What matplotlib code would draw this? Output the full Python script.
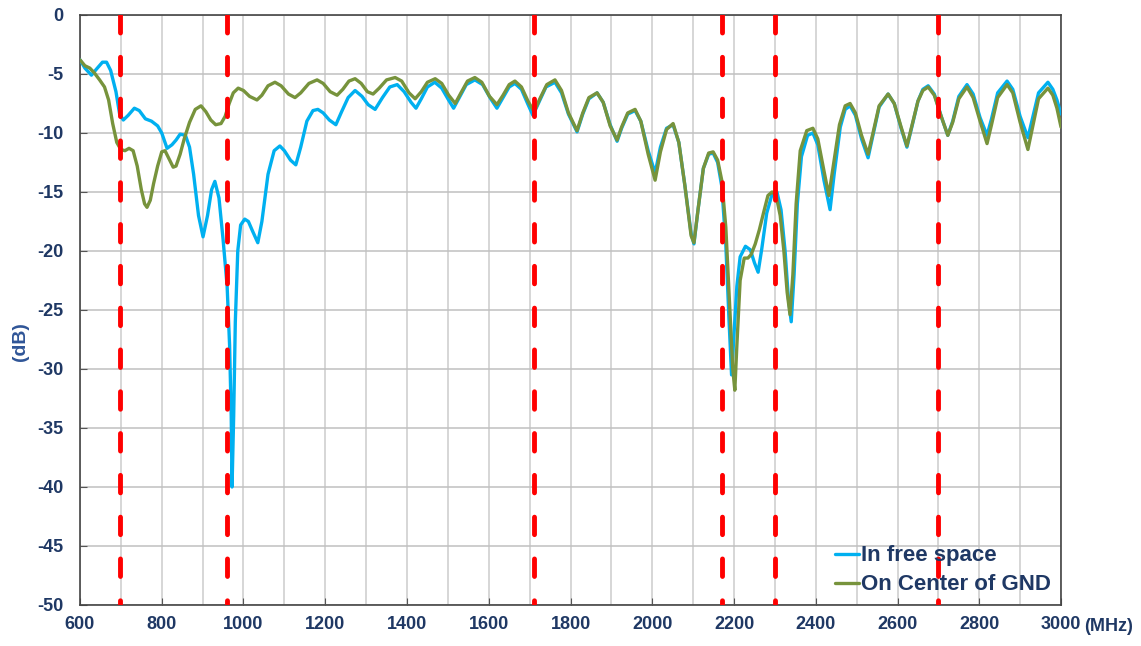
import numpy as np
import matplotlib.pyplot as plt

freqFree = [600, 612, 628, 640, 655, 665, 675, 688, 697, 706, 718, 733, 745, 760, 775, 790, 800, 813, 825, 835,
            845, 858, 868, 878, 890, 901, 912, 922, 930, 940, 950, 960, 966, 970, 972, 976, 980, 986, 993, 1003,
            1012, 1022, 1035, 1045, 1060, 1075, 1089, 1100, 1115, 1128, 1140, 1155, 1170, 1182, 1195, 1210, 1226,
            1240, 1256, 1273, 1290, 1305, 1322, 1340, 1358, 1376, 1393, 1410, 1422, 1435, 1450, 1468, 1485, 1500,
            1514, 1528, 1545, 1566, 1585, 1603, 1620, 1635, 1650, 1664, 1680, 1695, 1708, 1720, 1740, 1762, 1778,
            1795, 1816, 1830, 1845, 1865, 1880, 1897, 1914, 1925, 1940, 1958, 1972, 1990, 2007, 2020, 2035, 2051,
            2065, 2080, 2095, 2102, 2112, 2125, 2138, 2149, 2160, 2170, 2180, 2188, 2194, 2200, 2207, 2215, 2228,
            2240, 2250, 2259, 2268, 2280, 2293, 2305, 2315, 2325, 2333, 2340, 2347, 2355, 2365, 2380, 2393, 2405,
            2420, 2435, 2445, 2460, 2472, 2484, 2497, 2512, 2528, 2540, 2555, 2577, 2592, 2608, 2623, 2635, 2650,
            2662, 2675, 2690, 2707, 2723, 2735, 2750, 2770, 2785, 2802, 2819, 2830, 2845, 2868, 2882, 2900, 2919,
            2930, 2945, 2968, 2980, 2990, 3000]
dbFree = [-3.8, -4.5, -5.1, -4.6, -4.0, -4.0, -4.7, -6.5, -8.4, -8.9, -8.5, -7.9, -8.1, -8.8, -9.0, -9.4, -10.0,
          -11.3, -11.0, -10.6, -10.1, -10.2, -11.2, -13.5, -17.0, -18.8, -17.0, -14.8, -14.1, -15.5, -19.0, -23.0,
          -28.0, -34.0, -40.0, -34.0, -26.0, -20.0, -17.8, -17.3, -17.5, -18.3, -19.3, -17.5, -13.5, -11.5, -11.1,
          -11.5, -12.3, -12.7, -11.2, -9.0, -8.1, -8.0, -8.3, -8.9, -9.3, -8.2, -7.0, -6.4, -6.9, -7.6, -8.0, -7.0,
          -6.1, -5.9, -6.5, -7.4, -7.9, -7.1, -6.1, -5.7, -6.2, -7.1, -7.9, -7.0, -5.9, -5.5, -5.9, -7.0, -7.9,
          -7.0, -6.1, -5.8, -6.3, -7.5, -8.5, -7.6, -6.1, -5.7, -6.6, -8.4, -9.9, -8.4, -7.1, -6.6, -7.4, -9.3,
          -10.7, -9.6, -8.4, -8.1, -9.0, -11.5, -13.4, -11.2, -9.6, -9.3, -10.8, -14.5, -18.5, -19.4, -16.5, -13.0,
          -11.8, -11.7, -12.5, -14.5, -19.5, -26.0, -30.5, -27.0, -23.0, -20.5, -19.6, -19.9, -21.0, -21.8, -19.8,
          -16.8, -15.2, -15.0, -16.5, -20.0, -24.0, -26.0, -22.0, -16.0, -12.0, -10.2, -10.0, -11.0, -14.0, -16.5,
          -13.5, -9.5, -8.0, -7.7, -8.5, -10.5, -12.1, -10.2, -7.8, -6.7, -7.5, -9.5, -11.2, -9.5, -7.3, -6.3,
          -6.0, -6.7, -8.6, -10.2, -9.0, -6.9, -5.9, -6.7, -8.7, -10.2, -8.8, -6.6, -5.6, -6.3, -8.6, -10.4, -8.8,
          -6.6, -5.7, -6.3, -7.2, -8.4]

freqGnd = [600, 612, 624, 635, 648, 660, 670, 680, 690, 700, 710, 720, 730, 740, 750, 758, 764, 772, 780, 790,
           800, 808, 818, 828, 835, 845, 855, 868, 882, 896, 908, 920, 932, 945, 955, 965, 975, 987, 1000, 1015,
           1033, 1045, 1060, 1077, 1092, 1110, 1126, 1140, 1160, 1180, 1195, 1212, 1229, 1243, 1258, 1273, 1288,
           1303, 1317, 1332, 1350, 1371, 1387, 1405, 1420, 1435, 1450, 1469, 1485, 1502, 1518, 1532, 1548, 1566,
           1583, 1602, 1620, 1635, 1650, 1664, 1680, 1696, 1711, 1725, 1742, 1762, 1778, 1795, 1816, 1830, 1845,
           1865, 1880, 1897, 1914, 1925, 1940, 1958, 1972, 1990, 2007, 2020, 2035, 2051, 2065, 2080, 2095, 2102,
           2112, 2125, 2138, 2149, 2160, 2170, 2180, 2190, 2197, 2202, 2207, 2215, 2225, 2234, 2242, 2252, 2262,
           2272, 2283, 2293, 2303, 2313, 2322, 2330, 2337, 2344, 2352, 2362, 2378, 2393, 2405, 2420, 2432, 2442,
           2458, 2472, 2484, 2497, 2512, 2528, 2540, 2555, 2577, 2592, 2608, 2623, 2635, 2650, 2662, 2675, 2690,
           2707, 2723, 2735, 2750, 2770, 2785, 2802, 2819, 2830, 2845, 2868, 2882, 2900, 2919, 2930, 2945, 2968,
           2980, 2990, 3000]
dbGnd = [-3.8, -4.3, -4.5, -4.9, -5.5, -6.1, -7.2, -9.2, -10.8, -11.4, -11.5, -11.3, -11.5, -12.8, -14.8, -16.0,
         -16.3, -15.7, -14.3, -12.8, -11.6, -11.5, -12.2, -12.9, -12.8, -11.8, -10.5, -9.1, -8.0, -7.7, -8.2, -8.9,
         -9.3, -9.2, -8.6, -7.5, -6.6, -6.2, -6.4, -6.9, -7.2, -6.8, -6.0, -5.7, -6.0, -6.7, -7.0, -6.6, -5.8,
         -5.5, -5.8, -6.5, -6.8, -6.3, -5.6, -5.4, -5.8, -6.5, -6.7, -6.2, -5.5, -5.3, -5.6, -6.6, -7.1, -6.5,
         -5.7, -5.4, -5.8, -6.8, -7.5, -6.6, -5.6, -5.3, -5.7, -6.9, -7.6, -6.8, -5.9, -5.6, -6.1, -7.3, -8.2,
         -7.1, -5.9, -5.5, -6.4, -8.3, -9.8, -8.3, -7.0, -6.6, -7.4, -9.4, -10.6, -9.5, -8.3, -8.0, -9.0, -11.8,
         -14.0, -11.6, -9.7, -9.2, -10.8, -14.5, -18.7, -19.3, -16.5, -13.0, -11.7, -11.6, -12.3, -14.0, -18.0,
         -25.0, -30.0, -31.8, -28.0, -22.5, -20.6, -20.6, -20.3, -19.4, -18.2, -16.8, -15.3, -15.0, -15.3, -17.0,
         -20.0, -23.5, -25.4, -22.0, -16.0, -11.5, -9.8, -9.6, -10.5, -13.2, -15.3, -13.0, -9.3, -7.7, -7.5,
         -8.3, -10.2, -11.8, -10.0, -7.7, -6.7, -7.5, -9.4, -11.1, -9.4, -7.3, -6.4, -6.1, -6.8, -8.6, -10.2,
         -9.1, -7.1, -6.1, -7.0, -9.0, -10.9, -9.3, -7.0, -5.9, -6.6, -9.1, -11.4, -9.6, -7.1, -6.2, -6.8, -7.9,
         -9.5]

# band edges marked in red
bandEdges = [698, 960, 1710, 2170, 2300, 2700]

textColor = "#1F3864"

plt.rcParams['font.family'] = ['Liberation Sans', 'DejaVu Sans']
plt.rcParams['font.weight'] = 'bold'
plt.rcParams['axes.unicode_minus'] = False

fig = plt.figure(figsize=(11.41, 6.46), dpi=100)
ax = fig.add_axes([0.0701, 0.0635, 0.8598, 0.9133])

ax.plot(freqFree, dbFree, color="#00B0F0", lw=2.4, label="In free space", zorder=3,
        solid_joinstyle='round', solid_capstyle='round')
ax.plot(freqGnd, dbGnd, color="#77933C", lw=2.4, label="On Center of GND", zorder=4,
        solid_joinstyle='round', solid_capstyle='round')

for f in bandEdges:
    ax.plot([f, f], [0, -50], color="#FF0000", lw=3.5, dashes=(3.6, 5.0),
            dash_capstyle='round', zorder=5)

ax.set_xlim(600, 3000)
ax.set_ylim(-50, 0)
ax.set_xticks(np.arange(600, 3001, 200))
ax.set_xticks(np.arange(600, 3001, 100), minor=True)
ax.set_yticks(np.arange(-50, 1, 5))

ax.grid(True, which='both', axis='x', color="#CCCCCC", lw=1.1)
ax.grid(True, which='major', axis='y', color="#C0C0C0", lw=1.1)
ax.set_axisbelow(True)

ax.tick_params(axis='both', which='major', direction='in', length=5, color="#555555",
               labelsize=13, labelcolor=textColor, pad=8)
ax.tick_params(axis='x', which='minor', length=0)
ax.tick_params(axis='y', pad=12)
for lbl in ax.get_xticklabels() + ax.get_yticklabels():
    lbl.set_fontweight('bold')

for s in ax.spines.values():
    s.set_color("#444444")
    s.set_linewidth(1.2)

ax.set_ylabel("(dB)", fontsize=14, color="#2F5597", fontweight='bold')
ax.yaxis.set_label_coords(-0.052, 0.447)
ax.text(1.024, -0.022, "(MHz)", transform=ax.transAxes, fontsize=13, color=textColor,
        fontweight='bold', ha='left', va='top')

leg = ax.legend(loc='lower left', bbox_to_anchor=(0.752, -0.014), frameon=False, fontsize=16,
                handlelength=1.05, handletextpad=0.1, labelspacing=0.36, borderpad=0.3)
for t in leg.get_texts():
    t.set_color(textColor)
    t.set_fontweight('bold')

plt.savefig("out.png", dpi=100)
